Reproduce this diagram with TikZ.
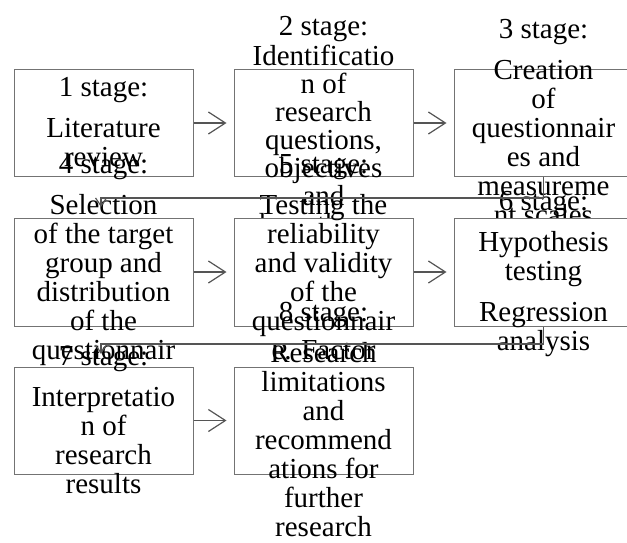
\documentclass[tikz,border=0pt]{standalone}
\usepackage{fontspec}
\setmainfont{Liberation Serif}
\usetikzlibrary{arrows.meta}
\definecolor{boxline}{RGB}{115,115,115}
\definecolor{linkline}{RGB}{85,85,85}
\tikzset{
  stagebox/.style={draw=boxline, fill=white, line width=1pt,
    minimum width=179pt, inner sep=0pt},
  stagetext/.style={align=center, inner sep=0pt, text=black,
    font=\fontsize{29}{29}\selectfont},
  flow/.style={draw=linkline, line width=1.2pt,
    -{Straight Barb[length=17pt,width=22pt,line width=1.2pt]}},
  turn/.style={draw=linkline, line width=1.2pt,
    -{Straight Barb[length=8pt,width=11pt,line width=1.2pt]}}
}
\begin{document}
\begin{tikzpicture}[x=1pt,y=-1pt]
\useasboundingbox (0,0) rectangle (627,543);
\clip (0,0) rectangle (627,543);

% row 1
\node[stagebox, minimum height=106pt] (b1) at (103.5,123) {};
\node[stagetext] (s1) at (103.5,126) {\strut 1 stage:\\[12pt] Literature\\ review\strut};
\node[stagebox, minimum height=106pt] (b2) at (323.5,123) {};
\node[stagetext, font=\fontsize{29}{28}\selectfont] (s2) at (323.5,129) {\strut 2 stage:\\ Identificatio\\ n of\\ research\\ questions,\\ objectives\\ and\\ hypotheses\strut};
\node[stagebox, minimum height=106pt] (b3) at (543.5,123) {};
\node[stagetext] (s3) at (543.5,126) {\strut 3 stage:\\[12pt] Creation\\ of\\ questionnair\\ es and\\ measureme\\ nt scales\strut};

% row 2
\node[stagebox, minimum height=108pt] (b4) at (103.5,272) {};
\node[stagetext] (s4) at (103.5,275) {\strut 4 stage:\\[12pt] Selection\\ of the target\\ group and\\ distribution\\ of the\\ questionnair\\ e\strut};
\node[stagebox, minimum height=108pt] (b5) at (323.5,272) {};
\node[stagetext] (s5) at (323.5,275) {\strut 5 stage:\\[12pt] Testing the\\ reliability\\ and validity\\ of the\\ questionnair\\ e. Factor\\ analysis\strut};
\node[stagebox, minimum height=108pt] (b6) at (543.5,272) {};
\node[stagetext] (s6) at (543.5,275) {\strut 6 stage:\\[12pt] Hypothesis\\ testing\\[12pt] Regression\\ analysis\strut};

% row 3
\node[stagebox, minimum height=107pt] (b7) at (103.5,420.5) {};
\node[stagetext] (s7) at (103.5,423.5) {\strut 7 stage:\\[12pt] Interpretatio\\ n of\\ research\\ results\strut};
\node[stagebox, minimum height=107pt] (b8) at (323.5,420.5) {};
\node[stagetext] (s8) at (323.5,423.5) {\strut 8 stage:\\[12pt] Research\\ limitations\\ and\\ recommend\\ ations for\\ further\\ research\strut};

% arrows within rows
\draw[flow] (b1.east) -- ([xshift=-7pt]b2.west);
\draw[flow] (b2.east) -- ([xshift=-7pt]b3.west);
\draw[flow] (b4.east) -- ([xshift=-7pt]b5.west);
\draw[flow] (b5.east) -- ([xshift=-7pt]b6.west);
\draw[flow] (b7.east) -- ([xshift=-7pt]b8.west);

% elbow connectors between rows
\coordinate (j1) at (101,198);
\coordinate (t1) at (101,207);
\draw[turn] (b3.south) |- (j1) -- (t1);
\coordinate (j2) at (101,344);
\coordinate (t2) at (101,354);
\draw[turn] (b6.south) |- (j2) -- (t2);
\end{tikzpicture}
\end{document}
